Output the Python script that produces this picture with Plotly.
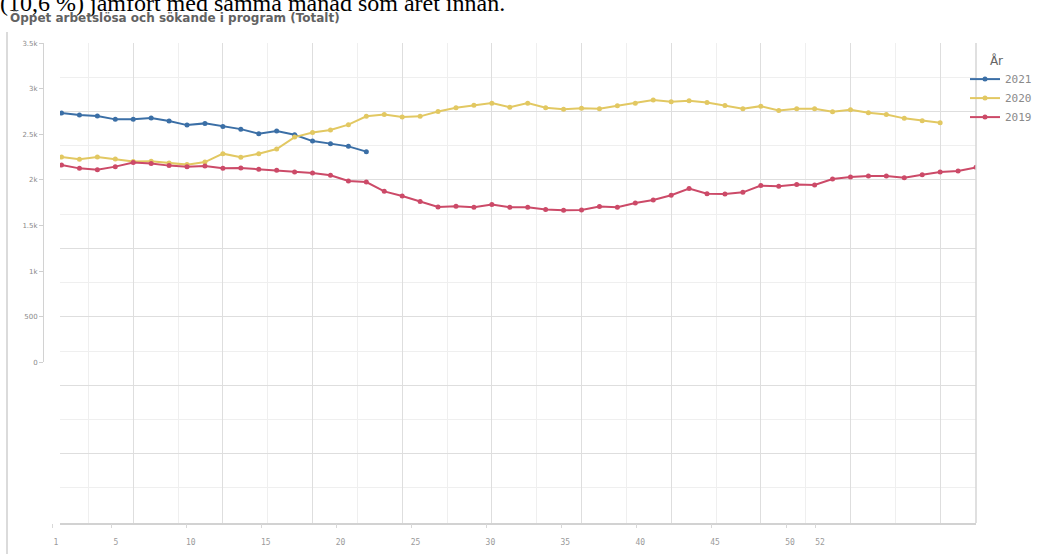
import plotly.graph_objects as go

# ---------------- data ----------------
weeks_2021 = list(range(1, 19))
values_2021 = [2733, 2711, 2700, 2664, 2664, 2678, 2645, 2601, 2620, 2587, 2557, 2507,
               2536, 2496, 2426, 2398, 2368, 2310]

weeks_2020 = list(range(1, 51))
values_2020 = [2251, 2226, 2251, 2229, 2201, 2204, 2185, 2168, 2196, 2288,
               2248, 2288, 2339, 2470, 2521, 2547, 2606, 2697, 2716, 2689,
               2697, 2751, 2792, 2820, 2842, 2798, 2842, 2792, 2776, 2787,
               2781, 2814, 2842, 2875, 2857, 2868, 2850, 2817, 2781, 2809,
               2762, 2781, 2781, 2748, 2770, 2737, 2718, 2675, 2649, 2628]

weeks_2019 = list(range(1, 53))
values_2019 = [2163, 2127, 2113, 2146, 2190, 2179, 2157, 2146, 2152, 2127,
               2131, 2116, 2105, 2087, 2076, 2051, 1988, 1977, 1875, 1824,
               1763, 1704, 1711, 1700, 1730, 1700, 1700, 1675, 1667, 1671,
               1708, 1700, 1747, 1780, 1832, 1905, 1850, 1846, 1864, 1938,
               1930, 1949, 1944, 2010, 2032, 2043, 2043, 2025, 2058, 2087,
               2098, 2138]

series_names = ["2021", "2020", "2019"]
x_tick_values = [1, 5, 10, 15, 20, 25, 30, 35, 40, 45, 50, 52]
x_tick_labels = ["1", "5", "10", "15", "20", "25", "30", "35", "40", "45", "50", "52"]
y_tick_values = [0, 500, 1000, 1500, 2000, 2500, 3000, 3500]
y_tick_labels = ["0", "500", "1k", "1.5k", "2k", "2.5k", "3k", "3.5k"]

header_text = "(10,6 %) jämfört med samma månad som året innan."
title_text = "Öppet arbetslösa och sökande i program (Totalt)"
legend_title = "År"

# ---------------- layout geometry ----------------
W, H = 1041, 554
ML, MR, MT, MB = 30, 65, 43, 31
PW = W - ML - MR
PH = H - MT - MB


def fx(p):
    return (p - ML) / PW


def fy(p):
    return (H - MB - p) / PH


colors = {"2021": "#3b6fa6", "2020": "#e2c862", "2019": "#cc4a68"}

fig = go.Figure()
for name, xs, ys in [("2021", weeks_2021, values_2021),
                     ("2020", weeks_2020, values_2020),
                     ("2019", weeks_2019, values_2019)]:
    fig.add_trace(go.Scatter(
        x=xs, y=ys, name=name, mode="lines+markers",
        line=dict(color=colors[name], width=2),
        marker=dict(color=colors[name], size=5),
        xaxis="x", yaxis="y",
    ))

# empty helper trace so the label axes (x2 / y2) get drawn
fig.add_trace(go.Scatter(x=[], y=[], xaxis="x2", yaxis="y2", showlegend=False,
                         hoverinfo="skip", mode="markers"))

fig.update_layout(
    width=W, height=H,
    margin=dict(l=ML, r=MR, t=MT, b=MB, autoexpand=False),
    paper_bgcolor="white", plot_bgcolor="rgba(0,0,0,0)",
    showlegend=True,
    legend=dict(
        x=fx(965), y=fy(49), xanchor="left", yanchor="top",
        title=dict(text="\u00a0\u00a0\u00a0\u00a0\u00a0\u00a0" + legend_title,
                   font=dict(family="DejaVu Sans", size=12, color="#666666")),
        font=dict(family="DejaVu Sans Mono", size=11, color="#8a8a8a"),
        itemwidth=30, tracegroupgap=0, bgcolor="rgba(0,0,0,0)",
    ),
    xaxis=dict(
        domain=[fx(60), 1], range=[0.916, 52.0], anchor="y",
        showticklabels=False, ticks="",
        tickmode="linear", tick0=0, dtick=5,
        showgrid=True, gridcolor="#dedede", gridwidth=1,
        minor=dict(tickmode="linear", tick0=0, dtick=2.5, showgrid=True,
                   gridcolor="#efefef", gridwidth=1, ticks=""),
        zeroline=False, showline=True, linecolor="#d2d2d2", linewidth=2,
    ),
    yaxis=dict(
        domain=[0, 1], range=[-1760, 3501], anchor="x",
        showticklabels=False, ticks="",
        tickmode="linear", tick0=-250, dtick=750,
        showgrid=True, gridcolor="#dedede", gridwidth=1,
        minor=dict(tickmode="linear", tick0=-250, dtick=375, showgrid=True,
                   gridcolor="#efefef", gridwidth=1, ticks=""),
        zeroline=False, showline=False,
    ),
    xaxis2=dict(
        domain=[0, 1], range=[1 + (ML - 52) / 14.98, 1 + (W - MR - 52) / 14.98],
        anchor="free", position=0, side="bottom",
        tickmode="array", tickvals=x_tick_values, ticktext=x_tick_labels,
        ticks="outside", ticklen=4, tickcolor="#d8d8d8", tickwidth=1,
        ticklabelstandoff=7, ticklabelshift=4,
        tickfont=dict(family="DejaVu Sans Mono", size=8, color="#9a9a9a"),
        showgrid=False, zeroline=False, showline=False,
    ),
    yaxis2=dict(
        domain=[fy(362.4), 1], range=[0, 3501], anchor="free", position=fx(43),
        tickmode="array", tickvals=y_tick_values, ticktext=y_tick_labels,
        ticks="outside", ticklen=4, tickcolor="#cfcfcf", tickwidth=1,
        tickfont=dict(family="DejaVu Sans", size=7, color="#8a8a8a"),
        showgrid=False, zeroline=False,
        showline=True, linecolor="#d2d2d2", linewidth=1,
    ),
    shapes=[
        dict(type="line", xref="x domain", yref="y domain", x0=1, x1=1, y0=0, y1=1,
             line=dict(color="#d6d6d6", width=1.5)),
        dict(type="line", xref="paper", yref="paper", x0=fx(7), x1=fx(7),
             y0=fy(32), y1=fy(H + 2), layer="above",
             line=dict(color="#cfcfcf", width=1.5)),
    ],
    annotations=[
        dict(text=header_text, xref="paper", yref="paper", x=fx(-2), y=fy(3),
             xanchor="left", yanchor="middle", showarrow=False,
             font=dict(family="Liberation Serif", size=24, color="#000000")),
        dict(text="<b>" + title_text + "</b>", xref="paper", yref="paper",
             x=fx(8), y=fy(17.5), xanchor="left", yanchor="middle", showarrow=False,
             font=dict(family="DejaVu Sans", size=12, color="#626262")),
    ],
)

fig.write_html("out.html",
               config={"displayModeBar": False},
               post_script="document.body.style.margin='0px';"
                           "document.body.style.overflow='hidden';")
